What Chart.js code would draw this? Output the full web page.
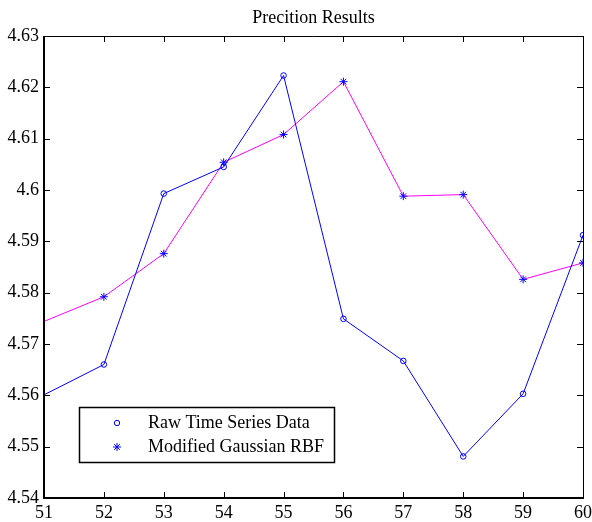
<!DOCTYPE html>
<html>
<head>
<meta charset="utf-8">
<script src="https://cdn.jsdelivr.net/npm/chart.js@4"></script>
<style>
  html, body { margin: 0; padding: 0; background: #fff; }
</style>
</head>
<body>
<canvas id="chart" width="592" height="522"></canvas>
<script>
"use strict";

const steps = [51, 52, 53, 54, 55, 56, 57, 58, 59, 60];
const rawSeries = [4.5601, 4.5660, 4.5993, 4.6045, 4.6223, 4.5749, 4.5667, 4.5481, 4.5603, 4.5912];
const rbfSeries = [4.5744, 4.5792, 4.5876, 4.6054, 4.6108, 4.6211, 4.5988, 4.5991, 4.5826, 4.5858];
const xTicks = [51, 52, 53, 54, 55, 56, 57, 58, 59, 60];
const yTicks = [4.54, 4.55, 4.56, 4.57, 4.58, 4.59, 4.6, 4.61, 4.62, 4.63];

const FONT = "'Liberation Serif', 'Times New Roman', serif";

// first point has no marker in the original (line only)
const markerRadius = (r) => steps.map((s, i) => (i === 0 ? 0 : r));

const frameAndLegend = {
  id: "frameAndLegend",
  afterDraw(chart) {
    const { ctx, chartArea: a, scales } = chart;
    const x = scales.x, y = scales.y;
    ctx.save();

    // title, centred over the plot box (matlab style)
    ctx.fillStyle = "#000";
    ctx.font = "18px " + FONT;
    ctx.textAlign = "center";
    ctx.textBaseline = "alphabetic";
    ctx.fillText("Precition Results", (a.left + a.right) / 2, 23);

    ctx.strokeStyle = "#000";

    // box: left/bottom a bit heavier like the original
    ctx.lineWidth = 1;
    ctx.beginPath();
    ctx.moveTo(a.left, a.top + 0.5);
    ctx.lineTo(a.right + 0.5, a.top + 0.5);
    ctx.lineTo(a.right + 0.5, a.bottom);
    ctx.stroke();
    ctx.lineWidth = 2;
    ctx.beginPath();
    ctx.moveTo(a.left, a.top);
    ctx.lineTo(a.left, a.bottom);
    ctx.lineTo(a.right + 1, a.bottom);
    ctx.stroke();

    // inward ticks on all four sides
    const tl = 6;
    ctx.lineWidth = 1;
    ctx.beginPath();
    xTicks.forEach((v) => {
      const px = Math.round(x.getPixelForValue(v)) + 0.5;
      ctx.moveTo(px, a.bottom);
      ctx.lineTo(px, a.bottom - tl);
      ctx.moveTo(px, a.top);
      ctx.lineTo(px, a.top + tl);
    });
    yTicks.forEach((v) => {
      const py = Math.round(y.getPixelForValue(v)) + 0.5;
      ctx.moveTo(a.left, py);
      ctx.lineTo(a.left + tl, py);
      ctx.moveTo(a.right, py);
      ctx.lineTo(a.right - tl, py);
    });
    ctx.stroke();

    // legend box
    const bx = 79.5, by = 407.5, bw = 255, bh = 55;
    ctx.fillStyle = "#fff";
    ctx.fillRect(bx, by, bw, bh);
    ctx.lineWidth = 1.5;
    ctx.strokeRect(bx, by, bw, bh);

    ctx.lineWidth = 1;
    ctx.strokeStyle = "#0000ff";
    ctx.beginPath();
    ctx.arc(117, 423, 2.7, 0, Math.PI * 2);
    ctx.stroke();

    ctx.beginPath();
    const sx = 117, sy = 447, r = 4;
    for (let k = 0; k < 4; k++) {
      const ang = (k * Math.PI) / 4;
      ctx.moveTo(sx - r * Math.cos(ang), sy - r * Math.sin(ang));
      ctx.lineTo(sx + r * Math.cos(ang), sy + r * Math.sin(ang));
    }
    ctx.stroke();

    ctx.fillStyle = "#000";
    ctx.font = "18px " + FONT;
    ctx.textBaseline = "middle";
    ctx.textAlign = "left";
    ctx.fillText("Raw Time Series Data", 148, 423);
    ctx.fillText("Modified Gaussian RBF", 148, 447);
    ctx.restore();
  },
};

new Chart(document.getElementById("chart"), {
  type: "line",
  data: {
    datasets: [
      {
        label: "Raw Time Series Data",
        data: steps.map((s, i) => ({ x: s, y: rawSeries[i] })),
        borderColor: "#0000ff",
        borderWidth: 1,
        pointStyle: "circle",
        pointRadius: markerRadius(2.8),
        pointBorderColor: "#0000ff",
        pointBackgroundColor: "rgba(0,0,0,0)",
        pointBorderWidth: 1,
        tension: 0,
      },
      {
        label: "Modified Gaussian RBF",
        data: steps.map((s, i) => ({ x: s, y: rbfSeries[i] })),
        borderColor: "#ff00ff",
        borderWidth: 1,
        pointStyle: "star",
        pointRadius: markerRadius(4),
        pointBorderColor: "#0000ff",
        pointBackgroundColor: "#0000ff",
        pointBorderWidth: 1,
        tension: 0,
      },
    ],
  },
  options: {
    responsive: false,
    animation: false,
    layout: { padding: { left: 0, right: 9, top: 36, bottom: 0 } },
    plugins: {
      legend: { display: false },
      tooltip: { enabled: false },
      title: { display: false },
    },
    scales: {
      x: {
        type: "linear",
        min: 51,
        max: 60,
        afterFit: (s) => { s.height = 24; s.paddingLeft = 0; s.paddingRight = 0; },
        afterBuildTicks: (s) => { s.ticks = xTicks.map((v) => ({ value: v })); },
        grid: { display: false, drawTicks: false },
        border: { display: false },
        ticks: {
          padding: 4,
          color: "#000",
          maxRotation: 0,
          font: { family: FONT, size: 18 },
          callback: (v) => String(v),
        },
      },
      y: {
        min: 4.54,
        max: 4.63,
        afterFit: (s) => { s.width = 44; s.paddingTop = 0; s.paddingBottom = 0; },
        afterBuildTicks: (s) => { s.ticks = yTicks.map((v) => ({ value: v })); },
        grid: { display: false, drawTicks: false },
        border: { display: false },
        ticks: {
          padding: 5,
          color: "#000",
          font: { family: FONT, size: 18 },
          callback: (v) => String(+Number(v).toFixed(2)),
        },
      },
    },
  },
  plugins: [frameAndLegend],
});
</script>
</body>
</html>
